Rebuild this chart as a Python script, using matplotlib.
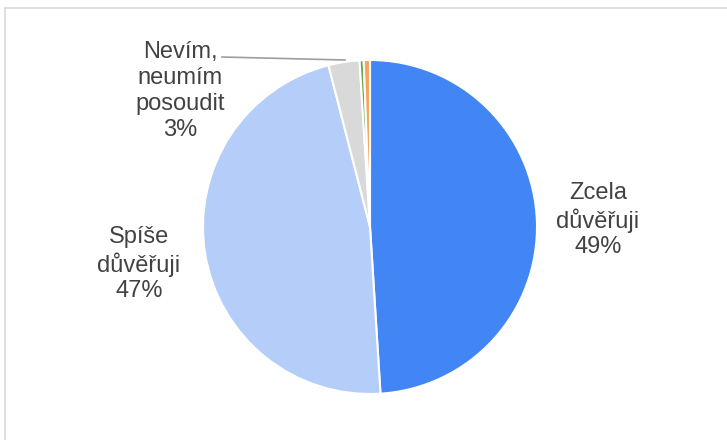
import matplotlib
matplotlib.use("Agg")
import matplotlib.pyplot as plt
from matplotlib.lines import Line2D

# Data
labels = ["Zcela\ndůvěřuji", "Spíše\ndůvěřuji", "Nevím,\nneumím\nposoudit", "Jiné", "Nedůvěřuji"]
values = [49.0, 47.0, 3.0, 0.4, 0.6]
shown_pct = ["49%", "47%", "3%", "", ""]
colors = ["#4285f4", "#b5cdf9", "#d9d9d9", "#6aa84f", "#f6a35b"]

plt.rcParams['font.family'] = ['Liberation Sans', 'DejaVu Sans']

fig = plt.figure(figsize=(7.27, 4.4), dpi=100)
ax = fig.add_axes([0, 0, 1, 1])

wedges, _ = ax.pie(values, colors=colors, startangle=90, counterclock=False,
                   center=(370, 213), radius=167,
                   wedgeprops=dict(edgecolor='white', linewidth=1.5))

ax.set_xlim(0, 727)
ax.set_ylim(0, 440)
ax.set_aspect('equal')
ax.axis('off')

txt = dict(fontsize=17, color='#424242', ha='center', va='center', linespacing=1.22)
ax.text(598, 220, labels[0] + "\n" + shown_pct[0], **txt)
ax.text(139, 176, labels[1] + "\n" + shown_pct[1], **txt)
ax.text(180, 349, labels[2] + "\n" + shown_pct[2], **txt)

# leader line for the small slice
ax.plot([222, 345], [383, 380], color='#9e9e9e', linewidth=1.2)

# chart border (top and left edges visible)
fig.add_artist(Line2D([5 / 727, 1], [1 - 8 / 440, 1 - 8 / 440], color='#d9d9d9', linewidth=1.2))
fig.add_artist(Line2D([5 / 727, 5 / 727], [0, 1 - 8 / 440], color='#d9d9d9', linewidth=1.2))

fig.savefig("out.png", dpi=100)
